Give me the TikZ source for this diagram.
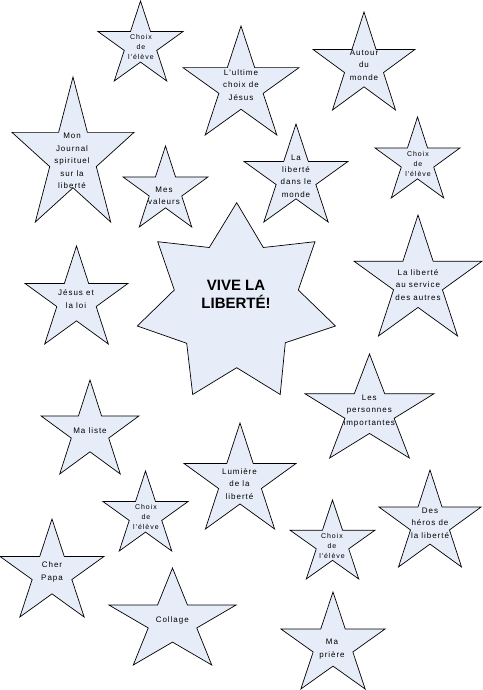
\documentclass[tikz,border=0pt]{standalone}
\usepackage{fontspec}
\setmainfont{Liberation Sans}
\newfontfamily\lblfont[LetterSpace=12]{Liberation Sans}
\newfontfamily\smallfont[LetterSpace=14]{Liberation Sans}
\definecolor{starfill}{RGB}{230,236,248}
\tikzset{
  starshape/.style={draw=black, line width=0.7pt, fill=starfill, line join=miter},
  lbl/.style={align=center, inner sep=0pt, font=\lblfont\fontsize{8}{12.4}\selectfont},
  smalllbl/.style={align=center, inner sep=0pt, font=\smallfont\fontsize{7}{10}\selectfont},
  titlelbl/.style={align=center, inner sep=0pt, font=\bfseries\fontsize{15}{17.7}\selectfont}
}
\newcommand\fstar[4]{%
  \pgfmathsetmacro\W{#2-#1}\pgfmathsetmacro\H{#4-#3}%
  \draw[starshape] ({#1+0.5*\W},#3) -- ({#1+0.618*\W},{#3+0.382*\H}) -- (#2,{#3+0.382*\H})
    -- ({#1+0.691*\W},{#3+0.618*\H}) -- ({#1+0.809*\W},#4) -- ({#1+0.5*\W},{#3+0.764*\H})
    -- ({#1+0.191*\W},#4) -- ({#1+0.309*\W},{#3+0.618*\H}) -- (#1,{#3+0.382*\H})
    -- ({#1+0.382*\W},{#3+0.382*\H}) -- cycle;}
\begin{document}
\begin{tikzpicture}[x=1pt,y=-1pt]
\useasboundingbox (0,0) rectangle (482,690);
% central seven-point star
\draw[starshape] (236.7,202.7) -- (263.3,247.5) -- (315,241.7) -- (298.3,290) -- (335.5,326)
  -- (285.3,342.7) -- (280.2,394.5) -- (236.7,367.7) -- (192.7,394.5) -- (186.7,343.3)
  -- (137.3,326) -- (174.3,290) -- (157.7,241.7) -- (209.3,247.5) -- cycle;
\node[titlelbl] (title) at (236,294) {VIVE LA\\LIBERTÉ!};
% five-point stars
\fstar{98}{183}{1}{81}
\node[smalllbl] (s1) at (141,47) {Choix\\de\\l'élève};
\fstar{183}{299}{26}{135}
\node[lbl] (s2) at (241,85) {L'ultime\\choix de\\Jésus};
\fstar{313}{415}{12}{110}
\node[lbl] (s3) at (364,65) {Autour\\du\\monde};
\fstar{12}{134}{77}{222}
\node[lbl] (s4) at (72,161) {Mon\\Journal\\spirituel\\sur la\\liberté};
\fstar{123}{208}{146}{227}
\node[lbl] (s5) at (164,195.5) {Mes\\valeurs};
\fstar{244}{348}{124}{222}
\node[lbl] (s6) at (296,176) {La\\liberté\\dans le\\monde};
\fstar{375}{460}{117}{198}
\node[smalllbl] (s7) at (418,163.5) {Choix\\de\\l'élève};
\fstar{25}{128}{246}{344}
\node[lbl] (s8) at (76,299) {Jésus et\\la loi};
\fstar{354}{482}{215}{336}
\node[lbl] (s9) at (418,285) {La liberté\\au service\\des autres};
\fstar{305}{434}{354}{458}
\node[lbl] (s10) at (369.3,411) {Les\\personnes\\importantes};
\fstar{41}{139}{380}{474}
\node[lbl] (s11) at (90,431) {Ma liste};
\fstar{184}{296}{423}{529}
\node[lbl] (s12) at (239.5,484) {Lumière\\de la\\liberté};
\fstar{103}{188}{471}{551}
\node[smalllbl] (s13) at (146,516.5) {Choix\\de\\l'élève};
\fstar{0}{104}{519}{617}
\node[lbl] (s14) at (52,572) {Cher\\Papa};
\fstar{109}{236}{568}{665}
\node[lbl] (s15) at (172.3,620.7) {Collage};
\fstar{379}{481}{470}{567}
\node[lbl] (s16) at (430,523) {Des\\héros de\\la liberté};
\fstar{290}{375}{500}{579}
\node[smalllbl] (s17) at (332,545.5) {Choix\\de\\l'élève};
\fstar{281}{385}{592}{689}
\node[lbl] (s18) at (332,649) {Ma\\prière};
\end{tikzpicture}
\end{document}
